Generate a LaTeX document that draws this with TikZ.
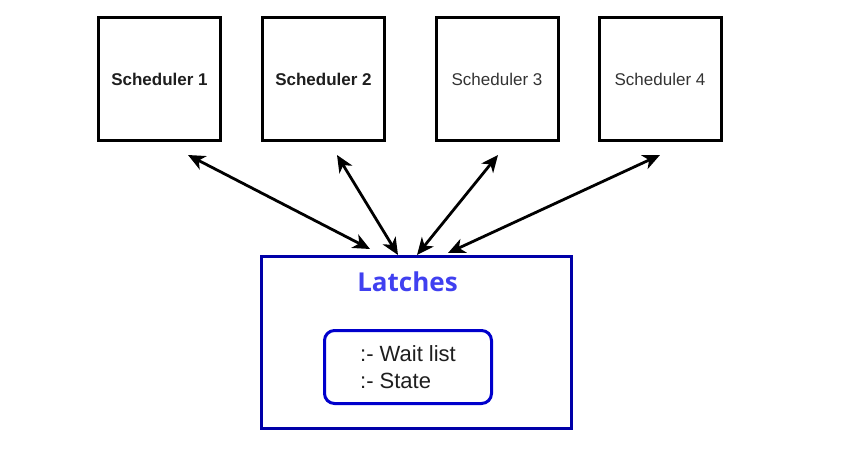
\documentclass[tikz,border=0pt]{standalone}
\usepackage{fontspec}
\setmainfont{Liberation Sans}
\newfontfamily\latchfont{Open Sans}
\usetikzlibrary{arrows.meta,calc}
\definecolor{navyb}{HTML}{0000A8}
\definecolor{innerb}{HTML}{0000CC}
\definecolor{latchtxt}{HTML}{4040F0}
\definecolor{txt}{HTML}{1E1E1E}
\tikzset{
  schedbox/.style={draw=black,line width=3pt,minimum width=122pt,minimum height=123pt,inner sep=0pt,text=txt,font=\fontsize{17}{20}\selectfont},
  biarrow/.style={line width=2.8pt,{Stealth[length=17pt,width=15pt,inset=5pt]}-{Stealth[length=17pt,width=15pt,inset=5pt]}},
}
\begin{document}
\begin{tikzpicture}[x=1pt,y=-1pt]
\useasboundingbox (0,0) rectangle (853,462);
\node[schedbox,font=\fontsize{17}{20}\selectfont\bfseries] (s1) at (159.5,79.5) {Scheduler 1};
\node[schedbox,font=\fontsize{17}{20}\selectfont\bfseries] (s2) at (323.5,79.5) {Scheduler 2};
\node[schedbox,text=black!80] (s3) at (497,79.5) {Scheduler 3};
\node[schedbox,text=black!80] (s4) at (660,79.5) {Scheduler 4};
\node[draw=navyb,line width=3pt,minimum width=310pt,minimum height=172pt,inner sep=0pt] (latch) at (416.5,342.5) {};
\node[text=latchtxt,font=\latchfont\fontsize{26}{30}\selectfont\bfseries] (ltitle) at (407.5,282) {Latches};
\node[draw=innerb,line width=3pt,rounded corners=10pt,minimum width=167pt,minimum height=73pt,inner sep=0pt,align=left,text=txt,font=\fontsize{22}{27}\selectfont] (inner) at (408,367) {:- Wait list\\:- State};
\draw[biarrow] ($(s1.south)+(28.5,12.5)$) -- ($(latch.north)+(-46.5,-6)$);
\draw[biarrow] ($(s2.south)+(13.5,12.5)$) -- ($(latch.north)+(-18.5,0)$);
\draw[biarrow] ($(s3.south)+(1,12.5)$) -- ($(latch.north)+(0.5,0)$);
\draw[biarrow] ($(s4.south)+(0,12.5)$) -- ($(latch.north)+(31.5,-2)$);
\end{tikzpicture}
\end{document}
